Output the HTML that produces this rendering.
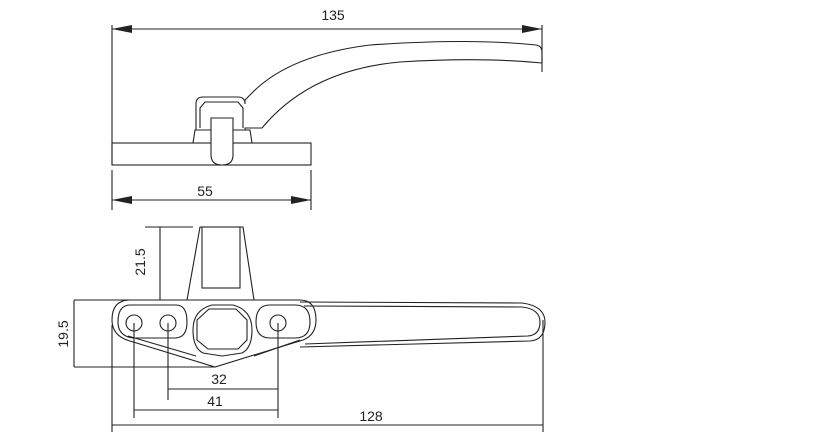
<!DOCTYPE html>
<html><head><style>body{margin:0;background:#fff}svg{display:block}text{font-family:"Liberation Sans",sans-serif;font-size:14px;fill:#222;stroke:none}</style></head>
<body>
<svg width="822" height="442" viewBox="0 0 822 442" fill="none" stroke="#222" stroke-width="1.1">
<defs><marker id="a" viewBox="0 0 20 8" refX="20" refY="4" markerWidth="20" markerHeight="8" orient="auto-start-reverse" markerUnits="userSpaceOnUse"><path d="M0,0L20,4L0,8z" fill="#222" stroke="none"/></marker></defs>
<!-- top view dims -->
<line x1="112" y1="25" x2="112" y2="165"/><line x1="542" y1="25" x2="542" y2="72"/>
<line x1="112" y1="29" x2="542" y2="29" marker-start="url(#a)" marker-end="url(#a)"/>
<text x="333" y="20" text-anchor="middle">135</text>
<line x1="112" y1="170" x2="112" y2="210"/><line x1="311" y1="170" x2="311" y2="210"/>
<line x1="112" y1="200" x2="311" y2="200" marker-start="url(#a)" marker-end="url(#a)"/>
<text x="205" y="196" text-anchor="middle">55</text>
<!-- top view part -->
<rect x="112" y="143" width="199" height="22"/>
<path d="M193,143L195,130H250L252,143"/>
<path d="M196,130V104Q196,97 203,97H238Q245,97 245,104V100Q250,95 253,92Q290,55 370,45Q470,38 536,45Q542,46 542,52V63Q480,57 400,62Q310,70 262,128H245V130"/>
<path d="M200,128V108L205,102H238L243,108V128"/>
<path d="M211,118H233V155Q233,165 222,165Q211,165 211,155Z" fill="#fff"/>
<!-- bottom view dims -->
<line x1="145" y1="227" x2="193" y2="227"/><line x1="160" y1="227" x2="160" y2="300"/>
<text transform="translate(145,262) rotate(-90)" text-anchor="middle">21.5</text>
<line x1="74" y1="300" x2="130" y2="300"/><line x1="74" y1="367" x2="215" y2="367"/><line x1="74" y1="300" x2="74" y2="367"/>
<text transform="translate(68,334) rotate(-90)" text-anchor="middle">19.5</text>
<!-- stem -->
<path d="M187,300L200,227H243L254,300"/>
<rect x="202" y="227" width="38" height="61"/>
<!-- plate -->
<path d="M130,300H300Q316,300 316,320Q316,335 303,340L215,367L130,341Q112,336 112,320Q112,300 130,300Z"/>
<path d="M130,305H176Q187,305 187,322Q187,337 176,338H133Q118,336 118,322Q118,305 130,305Z"/>
<path d="M128,336L196,356M254,356L300,340"/>
<path d="M270,305H295Q310,305 310,322Q310,338 295,338H270Q256,338 256,322Q256,305 270,305Z"/>
<path d="M212,305H233Q252,310 252,330Q252,348 242,353L222,356L203,353Q193,348 193,330Q193,310 212,305Z"/>
<path d="M209,309H236L247,320V340L238,349H208L197,340V320Z"/>
<circle cx="134" cy="323" r="8"/><circle cx="168" cy="323" r="8"/><circle cx="278" cy="323" r="8"/>
<!-- handle -->
<path d="M300,302L522,303Q545,306 545,322Q545,340 530,341L300,347"/>
<path d="M304,306L522,307Q540,309 540,322Q540,335 528,336L305,344"/>
<!-- bottom dims -->
<line x1="168" y1="323" x2="168" y2="400"/><line x1="278" y1="323" x2="278" y2="418"/><line x1="134" y1="323" x2="134" y2="418"/>
<line x1="168" y1="389" x2="278" y2="389"/><text x="219" y="384" text-anchor="middle">32</text>
<line x1="134" y1="410" x2="278" y2="410"/><text x="215" y="406" text-anchor="middle">41</text>
<line x1="112" y1="325" x2="112" y2="432"/><line x1="543" y1="320" x2="543" y2="432"/>
<line x1="112" y1="425" x2="543" y2="425"/><text x="371" y="421" text-anchor="middle">128</text>
</svg>
</body></html>
